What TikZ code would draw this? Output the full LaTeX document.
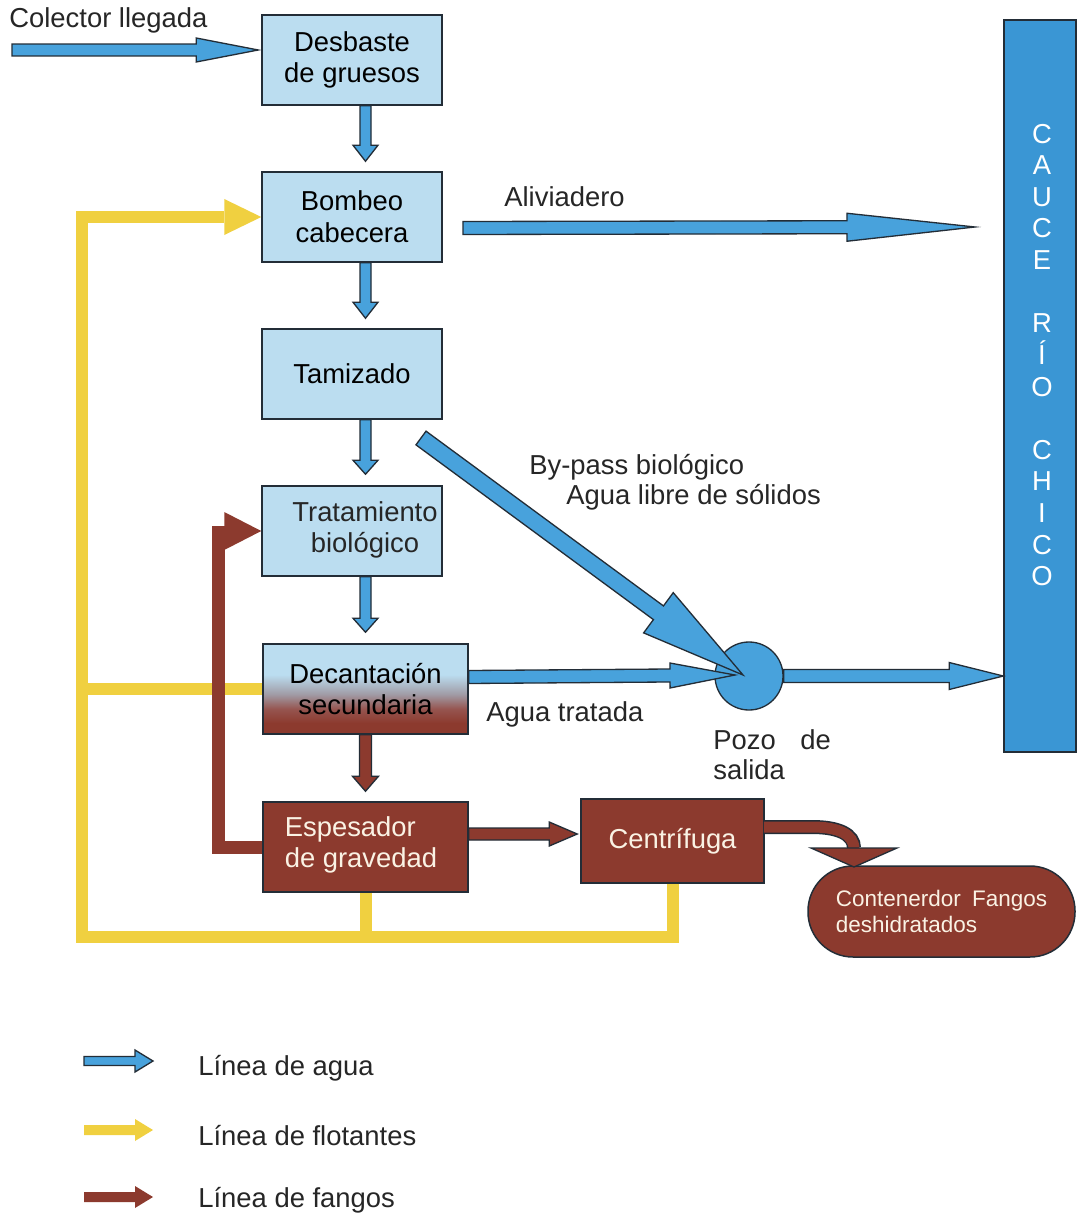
\documentclass[tikz,border=0pt]{standalone}
\usepackage{fontspec}
\setmainfont{Liberation Sans}
\usetikzlibrary{calc}
\definecolor{boxblue}{RGB}{187,221,240}
\definecolor{water}{RGB}{72,162,220}
\definecolor{river}{RGB}{58,150,212}
\definecolor{fango}{RGB}{140,58,46}
\definecolor{flot}{RGB}{240,208,64}
\definecolor{outl}{RGB}{35,45,55}
\definecolor{cream}{RGB}{250,242,228}
\definecolor{decmid}{RGB}{160,155,165}
\definecolor{decred}{RGB}{150,85,80}
\pgfdeclarelayer{paper}
\pgfdeclarelayer{under}
\pgfsetlayers{paper,under,main}
\pgfdeclareverticalshading{decshade}{100bp}{color(0bp)=(fango); color(25bp)=(fango); color(31bp)=(fango); color(39bp)=(decred); color(47bp)=(decmid); color(58bp)=(boxblue); color(75bp)=(boxblue); color(100bp)=(boxblue)}
\newcommand\diagfont{\fontsize{15.6}{18}\selectfont}
\newcommand\contfont{\fontsize{12.8}{14.8}\selectfont}
% block arrow: [style]{start}{tip}{shaft width px}{head width px}{head length px}
\newcommand\barrow[6][]{%
  \coordinate (bas) at (#2);
  \coordinate (bae) at (#3);
  \coordinate (bah) at ($(bae)!#6*0.02cm!(bas)$);
  \filldraw[#1] ($(bas)!#4*0.01cm!90:(bae)$) -- ($(bah)!#4*0.01cm!90:(bae)$) -- ($(bah)!#5*0.01cm!90:(bae)$) -- (bae) -- ($(bah)!#5*0.01cm!-90:(bae)$) -- ($(bah)!#4*0.01cm!-90:(bae)$) -- ($(bas)!#4*0.01cm!-90:(bae)$) -- cycle;
}
% arrow head only: [style]{base}{tip}{half width px}
\newcommand\bhead[4][]{%
  \coordinate (bhb) at (#2);
  \coordinate (bht) at (#3);
  \filldraw[#1] ($(bhb)!#4*0.02cm!90:(bht)$) -- (bht) -- ($(bhb)!#4*0.02cm!-90:(bht)$) -- cycle;
}
\tikzset{
  box/.style={draw=outl, line width=0.85pt, fill=boxblue, minimum width=180*0.02cm, minimum height=90*0.02cm, inner sep=0pt, align=center, font=\diagfont},
  fbox/.style={box, fill=fango, text=cream},
  wat/.style={fill=water, draw=outl, line width=0.75pt, line join=miter},
  fan/.style={fill=fango, draw=outl, line width=0.75pt, line join=miter},
  fanflat/.style={fill=fango, draw=none},
  flo/.style={fill=flot, draw=none},
  floline/.style={draw=flot, line width=12*0.02cm, line join=miter},
  fanline/.style={draw=fango, line width=13*0.02cm, line join=miter},
  lbl/.style={font=\diagfont, inner sep=0pt, text=black!85},
}
\begin{document}
\begin{tikzpicture}[x=0.02cm,y=-0.02cm]
\begin{pgfonlayer}{paper}
\fill[white] (0,0) rectangle (1077,1213);
\end{pgfonlayer}
\useasboundingbox (0,0) rectangle (1077,1213);

% ---- boxes
\node[box] (desbaste) at (352,60) {Desbaste\\de gruesos};
\node[box] (bombeo) at (352,217) {Bombeo\\cabecera};
\node[box] (tamiz) at (352,374) {Tamizado};
\node[box] (trat) at (352,531) {};
\node[lbl, align=center] (tratlbl) at (365,530) {Tratamiento\\biológico};
\node[box, minimum width=205*0.02cm, shade, shading=decshade] (decant) at (365.5,689) {Decantación\\secundaria};
\node[fbox, minimum width=205*0.02cm] (espes) at (365.5,847) {};
\node[lbl, text=cream, align=left] (espeslbl) at (361,845) {Espesador\\de gravedad};
\node[fbox, minimum width=183*0.02cm, minimum height=84*0.02cm] (centri) at (672.5,841) {Centrífuga};
\node[fbox, minimum width=267*0.02cm, minimum height=91*0.02cm, rounded corners=45*0.02cm, font=\contfont, align=left] (cont) at (941.5,911.5) {Contenerdor\hspace{6.3pt}Fangos\\deshidratados};

% river
\node[draw=outl, fill=river, minimum width=72*0.02cm, minimum height=732*0.02cm, line width=0.85pt, inner sep=0pt] (rio) at (1040,386) {};
\node[text=white, font=\diagfont, align=center, inner sep=0pt] (riotxt) at (1042,355) {C\\A\\U\\C\\E\\[18pt]R\\Í\\O\\[18pt]C\\H\\I\\C\\O};

% pozo
\node[circle, fill=water, draw=outl, line width=0.75pt, minimum size=68*0.02cm, inner sep=0pt] (pozo) at (749,676) {};

% ---- yellow (flotantes) lines and brown return, under the boxes
\begin{pgfonlayer}{under}
\coordinate (ybl) at (82,937);
\draw[floline] (centri.south) |- (ybl) |- ($(bombeo.west)+(-37,0)$);
\bhead[flo]{$(bombeo.west)+(-37,0)$}{bombeo.west}{18}
\draw[floline] (espes.south) -- (espes.south |- ybl);
\draw[floline] (decant.west) -- (decant.west -| ybl);
\coordinate (bret) at (218,526);
\draw[fanline] (espes.west) -| (bret);
\bhead[fanflat]{$(trat.west)+(-37,0)$}{trat.west}{19}
\end{pgfonlayer}

% ---- water arrows
\coordinate (colstart) at (12,50);
\barrow[wat]{colstart}{$(desbaste.west)+(-3,-10)$}{12}{24}{62}
\barrow[wat]{desbaste.south -| decant.center}{$(bombeo.north -| decant.center)+(0,-10)$}{11}{25}{16}
\barrow[wat]{bombeo.south -| decant.center}{$(tamiz.north -| decant.center)+(0,-10)$}{11}{25}{16}
\barrow[wat]{tamiz.south -| decant.center}{$(trat.north -| decant.center)+(0,-11)$}{11}{25}{14}
\barrow[wat]{trat.south -| decant.center}{$(decant.north)+(0,-11)$}{11}{25}{14}
\coordinate (alivs) at (463,228);
\coordinate (alive) at (975,227);
\barrow[wat]{alivs}{alive}{13}{28}{128}
\coordinate (bps) at (421,438);
\barrow[wat]{bps}{$(pozo.center)+(-6,-1)$}{17}{50}{105}
\barrow[wat]{$(decant.east)+(0,-12)$}{$(pozo.center)+(-14,-1)$}{13}{25}{65}
\barrow[wat]{pozo.east}{pozo.east -| rio.west}{13}{27}{54}

% ---- sludge arrows
\barrow[fan]{decant.south}{$(espes.north)+(0,-10)$}{12}{26}{15}
\barrow[fan]{$(espes.east)+(0,-13)$}{$(centri.west)+(-3,-7)$}{12}{24}{28}
\coordinate (chb) at (854,848);
\draw[draw=outl, line width=14*0.02cm] ($(centri.east)+(0,-14)$) -- (812,827) .. controls (838,827) and (854,834) .. (chb);
\draw[draw=fango, line width=11*0.02cm] ($(centri.east)+(-1,-14)$) -- (812,827) .. controls (838,827) and (854,834) .. ($(chb)+(0,1)$);
\bhead[fan]{chb}{$(chb)+(0,19)$}{43}

% ---- labels
\node[lbl, anchor=west] (colector) at (9,20) {Colector llegada};
\node[lbl, anchor=west] (alivlbl) at (504,197) {Aliviadero};
\node[lbl, anchor=west] (bp1) at (529,467) {By-pass biológico};
\node[lbl, anchor=west] (bp2) at (566,497) {Agua libre de sólidos};
\node[lbl, anchor=west] (atr) at (486,714) {Agua tratada};
\node[lbl, anchor=north west, align=left, font=\fontsize{15.6}{17}\selectfont] (pozolbl) at (713,729) {Pozo\hspace{14pt}de\\salida};

% ---- legend
\coordinate (lg1s) at (84,1061);
\coordinate (lg1e) at (153,1061);
\barrow[wat]{lg1s}{lg1e}{9}{22}{18}
\coordinate (lg2s) at (84,1130);
\coordinate (lg2e) at (153,1130);
\barrow[flo]{lg2s}{lg2e}{10}{22}{18}
\coordinate (lg3s) at (84,1197);
\coordinate (lg3e) at (153,1197);
\barrow[fanflat]{lg3s}{lg3e}{10}{22}{18}
\node[lbl, anchor=west] (lgt1) at (198,1068) {Línea de agua};
\node[lbl, anchor=west] (lgt2) at (198,1136) {Línea de flotantes};
\node[lbl, anchor=west] (lgt3) at (198,1200) {Línea de fangos};
\end{tikzpicture}
\end{document}
